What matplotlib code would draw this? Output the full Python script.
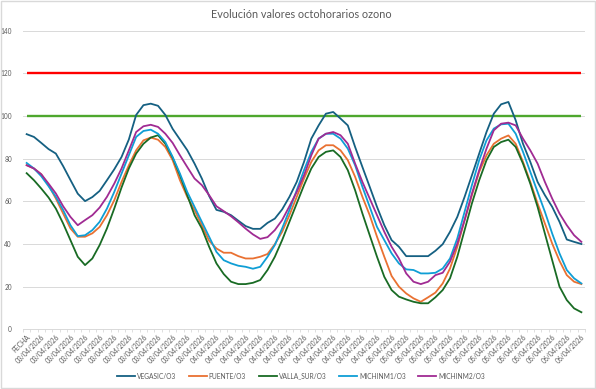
import matplotlib.pyplot as plt
from matplotlib.patches import Rectangle

plt.rcParams['font.family'] = ['Lato', 'DejaVu Sans']

# categorias del eje x (cabecera + horas)
fechas = (["FECHA"] + ["03/04/2026"] * 24 + ["04/04/2026"] * 24
          + ["05/04/2026"] * 24 + ["06/04/2026"] * 4)

vegasic = [91.5, 90.2, 87.4, 84.5, 82.4, 76.5, 70, 63.6, 60.1, 62, 64.9, 69.9, 75, 80.8, 89, 100.5,
           105.1, 105.8, 104.8, 100.5, 94, 89, 84, 77.7, 70.7, 62.5, 56, 55.1, 53.5, 50.9, 48.4, 47.1,
           47.1, 49.9, 51.9, 56.2, 62.1, 69.1, 78.5, 89.4, 95.6, 101.1, 101.9, 98.8, 95.6, 85.5, 76.1,
           66.8, 57.4, 48.8, 41.8, 38.7, 34.3, 34.3, 34.3, 34.3, 36.8, 39.9, 45.7, 52.7, 62.1, 72.2,
           82.4, 92.5, 101.1, 105.5, 106.6, 98, 87, 78.5, 69.1, 62.9, 57.4, 50.4, 42.1, 41, 40]
puente = [77, 75.4, 72.7, 67.6, 61.3, 54.3, 47.3, 43.4, 43.4, 45, 48, 53.5, 60.5, 69.1, 76.9, 83.9,
          88.6, 89.9, 88.9, 85.5, 79.3, 69.9, 62.1, 55.9, 48.8, 41.5, 37.9, 35.9, 35.9, 34.3, 33.2, 33.2,
          34, 35.3, 39.9, 45.7, 53.5, 62.1, 70.7, 78.5, 83.9, 86.3, 86.3, 83.9, 79.3, 71.5, 62.1,
          53.5, 43.4, 34, 25, 20, 16.8, 14.5, 12.9, 15, 17.2, 21.5, 28.5, 38.7, 51.2, 62.9,
          73.8, 81.6, 87, 89.4, 90.9, 87, 78.5, 69.1, 59, 49.6, 40.2, 32.1, 25.4, 22.3, 21.2]
valla_sur = [73.2, 69.9, 66, 61.8, 56.6, 49.6, 41.8, 34, 30.1, 33.2, 39.5, 47.3, 56.6, 66.5, 75.4, 82.4,
             87, 89.9, 91, 87, 80.5, 72.2, 62.9, 53.5, 47.3, 38.7, 30.9, 25.9, 22.3, 21.2, 21.2, 21.8,
             23.1, 27.8, 34, 41.8, 50.4, 59, 67.6, 75.4, 80.8, 83.2, 83.9, 80.8, 74.6, 65.2, 54.3,
             44.1, 34, 24.6, 18.4, 15.3, 14, 12.9, 12.2, 12.2, 15, 18.4, 23.9, 34, 46.5, 59,
             69.9, 79.3, 85.5, 87.8, 88.9, 85.5, 77.7, 68.3, 57.4, 44.9, 32.4, 20, 13.7, 9.8, 8]
michinm1 = [78, 75.4, 71.8, 67.1, 62.1, 55.9, 48.8, 43.7, 44.1, 46.5, 50.4, 56.6, 64.4, 73, 81.6, 90.2,
            93, 93.6, 91.7, 87.8, 80.8, 73, 64.4, 57.4, 50.4, 43.4, 36.3, 32.4, 30.9, 29.8, 29.3, 28.4,
            29.3, 34, 39.5, 47.3, 55.9, 65.2, 74.6, 83.2, 89.4, 91.7, 91.7, 89.4, 84.7, 76.9, 66.8,
            57.4, 48, 41.8, 35.6, 30.9, 28.1, 27.8, 26.2, 26.2, 26.5, 28.5, 33.2, 42.6, 55.1, 67.6,
            79.3, 88.6, 94.1, 96.1, 96.4, 91.7, 83.2, 73.8, 64.4, 55.1, 44.9, 35.6, 27.8, 23.9, 21.5]
michinm2 = [76.9, 75.4, 72.7, 68.3, 63.7, 57.7, 52.7, 48.8, 51.2, 53.5, 57.1, 62.1, 68.3, 75.4, 83.9, 92.5,
            95.2, 95.9, 94.9, 91.7, 87.4, 81.6, 76.1, 70.7, 67.6, 62.9, 57.7, 55.4, 53, 50.2, 47.2, 44.5,
            42.4, 43.2, 46.5, 51.2, 57.7, 64.4, 72.2, 81.6, 89.4, 91.7, 92.5, 91, 87, 77.7, 69.1,
            61.3, 53.5, 45.7, 38.7, 33.2, 26.2, 22.3, 21.2, 22.3, 25.4, 26.5, 31.7, 40.2, 51.2, 63.6,
            74.6, 84.7, 93.3, 96.4, 96.9, 95.6, 89.4, 83.9, 77.7, 69.1, 61.3, 54.3, 48.8, 44.1, 41]

# umbrales
umbral_rojo = 120
umbral_verde = 100

series = [
    ("VEGASIC/O3", vegasic, "#156082"),
    ("PUENTE/O3", puente, "#E97132"),
    ("VALLA_SUR/O3", valla_sur, "#196B24"),
    ("MICHINM1/O3", michinm1, "#0F9ED5"),
    ("MICHINM2/O3", michinm2, "#A02B93"),
]

gris = "#595959"
n = len(fechas)
x = list(range(n))

fig = plt.figure(figsize=(5.96, 3.89), dpi=100)
ax = fig.add_axes([0.0386, 0.1535, 0.943, 0.7675])

ax.plot(x, [umbral_rojo] * n, color="#FF0000", lw=1.7, solid_capstyle="butt")
ax.plot(x, [umbral_verde] * n, color="#4EA72E", lw=1.7, solid_capstyle="butt")
for nombre, vals, col in series:
    ax.plot(x, vals, color=col, lw=1.3, label=nombre)

ax.set_ylim(0, 140)
ax.set_yticks(range(0, 141, 20))
ax.set_xlim(-0.5, n - 0.5)
ax.set_xticks(x[::2])
ax.set_xticklabels(fechas[::2], rotation=45, ha="right", rotation_mode="anchor")
ax.set_xticks([i - 0.5 for i in range(n + 1)], minor=True)
ax.tick_params(axis="x", which="major", length=0, labelsize=4.9, labelcolor=gris, pad=3)
ax.tick_params(axis="x", which="minor", length=2.5, color="#d9d9d9", width=0.6)
ax.tick_params(axis="y", length=0, labelsize=4.7, labelcolor=gris, pad=8)

ax.grid(axis="y", color="#d9d9d9", lw=0.7)
ax.set_axisbelow(True)
for s in ["top", "right", "left"]:
    ax.spines[s].set_visible(False)
ax.spines["bottom"].set_color("#d9d9d9")
ax.spines["bottom"].set_linewidth(0.7)

fig.text(0.505, 0.963, "Evolución valores octohorarios ozono", ha="center", va="center",
         fontsize=7.8, color=gris)

fig.legend(loc="center", bbox_to_anchor=(0.505, 0.033), ncol=5, frameon=False,
           fontsize=4.8, labelcolor=gris, handlelength=2.7, handletextpad=0.3,
           columnspacing=1.9)

fig.patches.append(Rectangle((0.002, 0.003), 0.996, 0.994, transform=fig.transFigure,
                             fill=False, edgecolor="#d9d9d9", lw=1))

fig.savefig("out.png", dpi=100)
